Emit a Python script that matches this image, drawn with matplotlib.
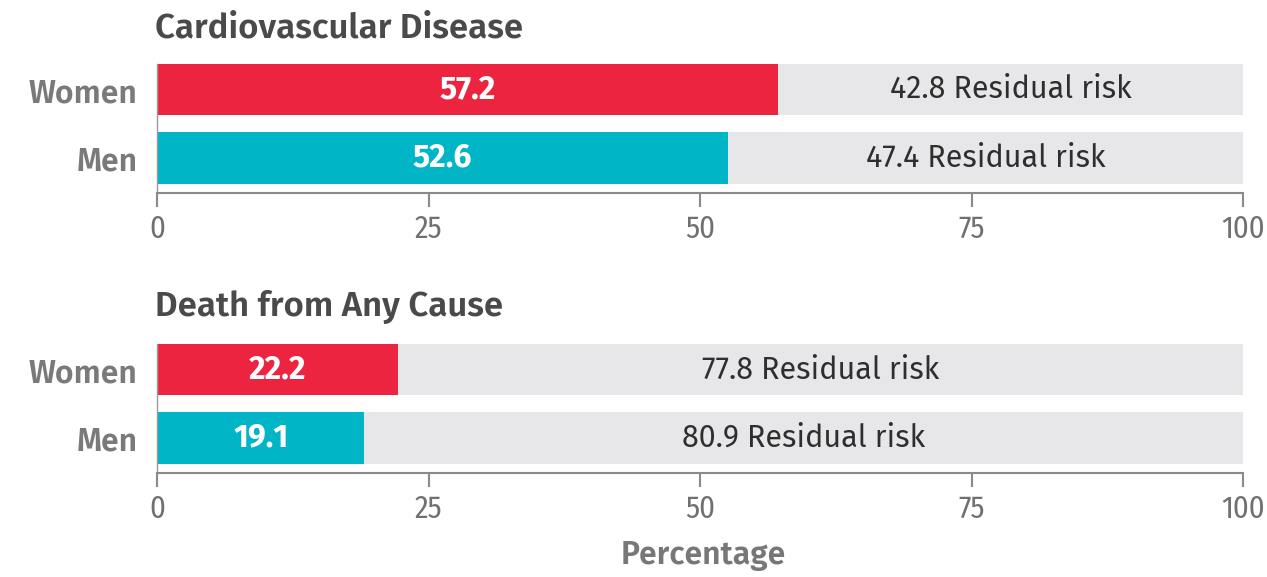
import matplotlib
matplotlib.use("Agg")
import matplotlib.pyplot as plt

# data
groups = ["Men", "Women"]
panel_titles = ["Cardiovascular Disease", "Death from Any Cause"]
cvd_values = [52.6, 57.2]
death_values = [19.1, 22.2]
xticks = [0, 25, 50, 75, 100]

RED = "#EC2440"
TEAL = "#00B5C6"
GRAY_BG = "#E7E7E9"
FONT = "Fira Sans"
TICK_FONT = "Fira Sans Condensed"

plt.rcParams["font.family"] = [FONT, "DejaVu Sans"]

fig = plt.figure(figsize=(12.67, 5.77), dpi=100)

W, H = 1267.0, 577.0
left = 157 / W
width = (1243 - 157) / W
axes_px = [(64, 193), (344, 473)]
title_px = [28, 307]


def draw_panel(ax, values, title, ty):
    colors = [TEAL, RED]
    ypos = range(len(groups))
    ax.barh(ypos, [100] * len(values), height=0.75, color=GRAY_BG, zorder=1)
    ax.barh(ypos, values, height=0.75, color=colors, zorder=2)
    for y, v in zip(ypos, values):
        ax.text(v / 2, y, f"{v:.1f}", ha="center", va="center", color="white",
                fontsize=23, fontweight="bold", zorder=3)
        ax.text((v + 100) / 2, y, f"{100 - v:.1f} Residual risk", ha="center",
                va="center", color="#2e2e2e", fontsize=22, zorder=3)
    ax.set_xlim(0, 100)
    ax.set_ylim(-0.51, 1.375)
    ax.set_xticks(xticks)
    ax.set_xticklabels([str(t) for t in xticks], fontsize=22, fontweight="normal",
                       color="#707070", family=[TICK_FONT, "DejaVu Sans"])
    ax.set_yticks(list(ypos))
    ax.set_yticklabels(groups, fontsize=23, fontweight="semibold", color="#7a7a7a")
    ax.tick_params(axis="y", length=0, pad=14)
    ax.tick_params(axis="x", length=10, width=1.5, color="#8a8a8a", pad=5)
    for s in ["top", "right"]:
        ax.spines[s].set_visible(False)
    ax.spines["bottom"].set_color("#8a8a8a")
    ax.spines["bottom"].set_linewidth(1.5)
    ax.spines["left"].set_color("#9a9a9a")
    ax.spines["left"].set_linewidth(1.0)
    fig.text(left - 2 / W, 1 - ty / H, title, ha="left", va="center",
             fontsize=25, fontweight="semibold", color="#4a4a4a")


for (top, bottom), vals, title, ty in zip(axes_px, [cvd_values, death_values],
                                          panel_titles, title_px):
    ax = fig.add_axes([left, 1 - bottom / H, width, (bottom - top) / H])
    draw_panel(ax, vals, title, ty)

fig.text(left + width / 2 + 3 / W, 1 - 555 / H, "Percentage", ha="center", va="center",
         fontsize=23, fontweight="semibold", color="#777777")

fig.savefig("out.png", dpi=100, facecolor="white")
